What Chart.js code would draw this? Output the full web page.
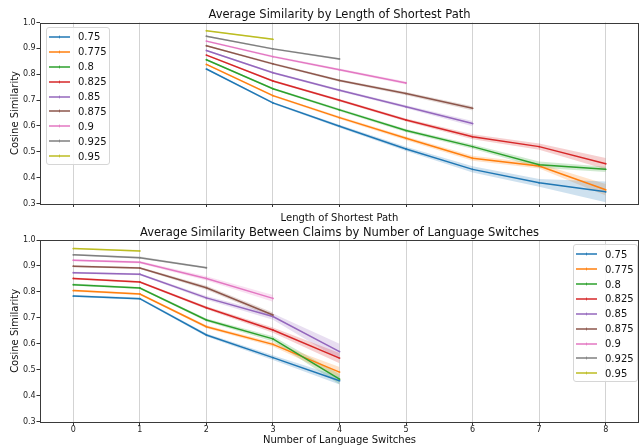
<!DOCTYPE html>
<html><head><meta charset="utf-8">
<script src="https://cdn.jsdelivr.net/npm/chart.js@4.4.1/dist/chart.umd.min.js"></script>
<style>
body{margin:0;background:#fff;width:643px;height:446px;overflow:hidden;position:relative;font-family:"DejaVu Sans",sans-serif}
canvas{position:absolute;left:0}
.legend{position:absolute;border:1px solid #d6d6d6;border-radius:3px;background:rgba(255,255,255,0.85);box-sizing:border-box}
.item{height:14.9px;display:flex;align-items:center;font-size:10px;color:#111;white-space:nowrap}
.item svg{margin-left:2px;margin-right:8px;display:block}
</style></head><body>
<canvas id="c1" width="643" height="224" style="top:0"></canvas>
<canvas id="c2" width="643" height="224" style="top:222px"></canvas>
<div id="leg1" class="legend" style="left:46px;top:27px;width:64px;height:138px;padding-top:1.5px"></div>
<div id="leg2" class="legend" style="left:573px;top:244px;width:65px;height:138px;padding-top:1.8px"></div>
<script>
const thresholds = ['0.75','0.775','0.8','0.825','0.85','0.875','0.9','0.925','0.95'];
const seriesColors = ['#1f77b4','#ff7f0e','#2ca02c','#d62728','#9467bd','#8c564b','#e377c2','#7f7f7f','#bcbd22'];
const xTicks = [0,1,2,3,4,5,6,7,8];
const yTicks = [0.3,0.4,0.5,0.6,0.7,0.8,0.9,1.0];

// Top: by length of shortest path (x = 0..8)
const pathLengths = [0,1,2,3,4,5,6,7,8];
const path_075  = [null,null,0.820,0.689,0.599,0.511,0.432,0.380,0.345];
const path_0775 = [null,null,0.838,0.717,0.632,0.552,0.475,0.445,0.353];
const path_080  = [null,null,0.856,0.744,0.662,0.582,0.520,0.450,0.432];
const path_0825 = [null,null,0.874,0.774,0.699,0.623,0.558,0.520,0.454];
const path_085  = [null,null,0.892,0.806,0.738,0.674,0.609,null,null];
const path_0875 = [null,null,0.910,0.840,0.776,0.725,0.668,null,null];
const path_090  = [null,null,0.928,0.868,0.817,0.766,null,null,null];
const path_0925 = [null,null,0.947,0.898,0.859,null,null,null,null];
const path_095  = [null,null,0.968,0.935,null,null,null,null,null];
// half-widths of the shaded confidence bands
const pathCi_075  = [null,null,0.003,0.004,0.006,0.008,0.012,0.015,0.040];
const pathCi_0775 = [null,null,0.003,0.004,0.005,0.007,0.010,0.010,0.022];
const pathCi_080  = [null,null,0.003,0.004,0.005,0.006,0.008,0.012,0.010];
const pathCi_0825 = [null,null,0.003,0.004,0.005,0.006,0.010,0.012,0.022];
const pathCi_085  = [null,null,0.003,0.004,0.005,0.006,0.010,null,null];
const pathCi_0875 = [null,null,0.003,0.004,0.005,0.006,0.008,null,null];
const pathCi_090  = [null,null,0.003,0.004,0.005,0.006,null,null,null];
const pathCi_0925 = [null,null,0.003,0.003,0.004,null,null,null,null];
const pathCi_095  = [null,null,0.002,0.003,null,null,null,null,null];

// Bottom: by number of language switches (x = 0..4)
const switchCounts = [0,1,2,3,4];
const switch_075  = [0.784,0.774,0.634,0.547,0.458];
const switch_0775 = [0.805,0.792,0.666,0.598,0.491];
const switch_080  = [0.828,0.815,0.692,0.619,0.464];
const switch_0825 = [0.852,0.838,0.739,0.653,0.545];
const switch_085  = [0.874,0.868,0.777,0.705,0.570];
const switch_0875 = [0.899,0.892,0.816,0.711,null];
const switch_090  = [0.922,0.914,0.852,0.775,null];
const switch_0925 = [0.943,0.932,0.893,null,null];
const switch_095  = [0.967,0.958,null,null,null];
const switchCi_075  = [0.004,0.004,0.006,0.009,0.015];
const switchCi_0775 = [0.004,0.004,0.006,0.008,0.020];
const switchCi_080  = [0.004,0.004,0.006,0.010,0.020];
const switchCi_0825 = [0.004,0.004,0.006,0.010,0.020];
const switchCi_085  = [0.004,0.004,0.007,0.012,0.030];
const switchCi_0875 = [0.004,0.004,0.008,0.010,null];
const switchCi_090  = [0.004,0.005,0.008,0.013,null];
const switchCi_0925 = [0.003,0.004,0.004,null,null];
const switchCi_095  = [0.003,0.003,null,null,null];

const pathSeries = [path_075,path_0775,path_080,path_0825,path_085,path_0875,path_090,path_0925,path_095];
const pathCis = [pathCi_075,pathCi_0775,pathCi_080,pathCi_0825,pathCi_085,pathCi_0875,pathCi_090,pathCi_0925,pathCi_095];
const switchSeries = [switch_075,switch_0775,switch_080,switch_0825,switch_085,switch_0875,switch_090,switch_0925,switch_095];
const switchCis = [switchCi_075,switchCi_0775,switchCi_080,switchCi_0825,switchCi_085,switchCi_0875,switchCi_090,switchCi_0925,switchCi_095];

function hexA(h,a){const n=parseInt(h.slice(1),16);return `rgba(${n>>16},${(n>>8)&255},${n&255},${a})`;}

function buildDatasets(xs, series, cis){
  const ds=[];
  series.forEach((vals,i)=>{
    const c=seriesColors[i];
    const pts=(f)=>xs.map((x,k)=>({x:x,y:vals[k]==null?null:f(vals[k],cis[i][k])}));
    ds.push({label:'_lo',data:pts((v,e)=>v-e),borderWidth:0,pointRadius:0,fill:false,order:30+i,isBand:true,borderColor:'transparent'});
    ds.push({label:'_hi',data:pts((v,e)=>v+e),borderWidth:0,pointRadius:0,fill:'-1',backgroundColor:hexA(c,0.22),order:30+i,isBand:true,borderColor:'transparent'});
    ds.push({label:thresholds[i],data:pts((v)=>v),borderColor:c,backgroundColor:c,borderWidth:1.5,pointRadius:0.9,pointStyle:'circle',pointBorderWidth:0,fill:false,order:10-i,tension:0});
  });
  return ds;
}

const spinePlugin={id:'spines',afterDraw(chart){const {ctx,chartArea:a}=chart;ctx.save();ctx.strokeStyle='#3a3a3a';ctx.lineWidth=1;ctx.strokeRect(Math.round(a.left)+0.5,Math.round(a.top)+0.5,Math.round(a.right-a.left)-1,Math.round(a.bottom-a.top));ctx.restore();}};
// title centred over the plotting area (as in the reference), drawn on the canvas
const axTitlePlugin={id:'axTitle',afterDraw(chart,args,opts){const {ctx,chartArea:a}=chart;ctx.save();ctx.fillStyle='#111';ctx.font='11.5px "DejaVu Sans"';ctx.textAlign='center';ctx.textBaseline='alphabetic';ctx.fillText(opts.text,(a.left+a.right)/2,opts.y);ctx.restore();}};

function makeChart(id, xs, series, cis, cfg){
  return new Chart(document.getElementById(id),{
    type:'line',
    data:{datasets:buildDatasets(xs,series,cis)},
    plugins:[spinePlugin,axTitlePlugin],
    options:{
      responsive:false,animation:false,spanGaps:false,
      layout:{padding:{left:0,right:1,top:cfg.top,bottom:0}},
      plugins:{
        legend:{display:false},tooltip:{enabled:false},title:{display:false},
        axTitle:{text:cfg.title,y:cfg.titleY}
      },
      scales:{
        x:{type:'linear',min:-0.5,max:8.5,
          afterBuildTicks:s=>{s.ticks=xTicks.map(v=>({value:v}));},
          afterFit:s=>{s.height=cfg.xH;},
          border:{display:false},
          grid:{display:true,color:'#d3d3d3',lineWidth:1,drawTicks:true,tickLength:3.5,tickColor:'#333'},
          ticks:{display:cfg.xLabels,color:'#222',font:{family:'DejaVu Sans',size:8},padding:0.3,maxRotation:0,autoSkip:false,callback:v=>String(v)},
          title:{display:true,text:cfg.xTitle,color:'#111',font:{family:'DejaVu Sans',size:10},padding:{top:0,bottom:cfg.xTitlePad}}
        },
        y:{type:'linear',min:0.3,max:1.0,
          afterBuildTicks:s=>{s.ticks=yTicks.map(v=>({value:v}));},
          afterFit:s=>{s.width=40;},
          border:{display:false},
          grid:{display:true,drawOnChartArea:false,drawTicks:true,tickLength:3.5,tickColor:'#333'},
          ticks:{color:'#222',font:{family:'DejaVu Sans',size:8},padding:0.8,callback:v=>v.toFixed(1)},
          title:{display:true,text:'Cosine Similarity',color:'#111',font:{family:'DejaVu Sans',size:10},padding:{top:9,bottom:0}}
        }
      }
    }
  });
}

const ch1=makeChart('c1',pathLengths,pathSeries,pathCis,{title:'Average Similarity by Length of Shortest Path',top:22.5,titleY:18.3,xH:20.5,xLabels:false,xTitle:'Length of Shortest Path',xTitlePad:0});
const ch2=makeChart('c2',switchCounts,switchSeries,switchCis,{title:'Average Similarity Between Claims by Number of Language Switches',top:18,titleY:13.7,xH:24.3,xLabels:true,xTitle:'Number of Language Switches',xTitlePad:0});

function buildLegend(chart, el){
  const NS='http://www.w3.org/2000/svg';
  chart.data.datasets.filter(d=>!d.isBand).forEach(d=>{
    const it=document.createElement('div');it.className='item';
    const svg=document.createElementNS(NS,'svg');svg.setAttribute('width','21');svg.setAttribute('height','6');
    const ln=document.createElementNS(NS,'line');ln.setAttribute('x1','0');ln.setAttribute('x2','21');ln.setAttribute('y1','3');ln.setAttribute('y2','3');ln.setAttribute('stroke',d.borderColor);ln.setAttribute('stroke-width','1.5');
    const mv=document.createElementNS(NS,'line');mv.setAttribute('x1','10.5');mv.setAttribute('x2','10.5');mv.setAttribute('y1','1.6');mv.setAttribute('y2','4.4');mv.setAttribute('stroke',d.borderColor);mv.setAttribute('stroke-width','0.8');
    svg.appendChild(ln);svg.appendChild(mv);
    const tx=document.createElement('span');tx.textContent=d.label;
    it.appendChild(svg);it.appendChild(tx);el.appendChild(it);
  });
}
buildLegend(ch1,document.getElementById('leg1'));
buildLegend(ch2,document.getElementById('leg2'));
</script>
</body></html>
